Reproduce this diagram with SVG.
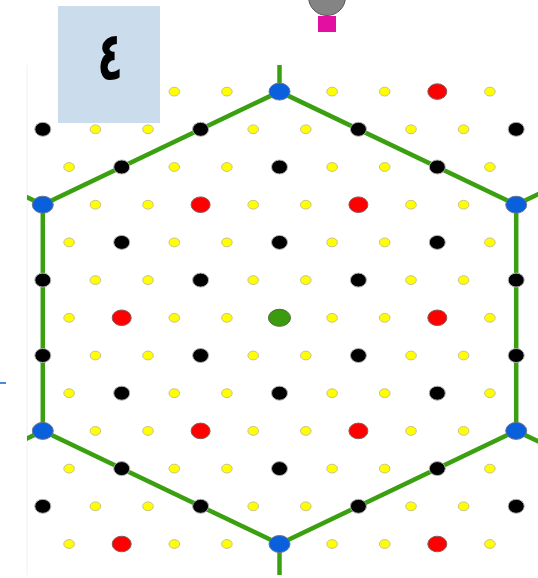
<svg xmlns="http://www.w3.org/2000/svg" xmlns:xlink="http://www.w3.org/1999/xlink" width="538" height="578" viewBox="0 0 538 578">
<style>
.y{fill:#ffff00;stroke:#c8c28c;stroke-width:1}
.k{fill:#000000;stroke:#b4b4b4;stroke-width:1}
.r{fill:#ff0000;stroke:#8c5a5a;stroke-width:1}
.b{fill:#0a5fdc;stroke:#667890;stroke-width:1}
.g{fill:#3a9c0c;stroke:#506040;stroke-width:1}
.edge{stroke:#3aa010;stroke-width:4.5;fill:none;stroke-linecap:butt}
</style>
<defs>
<clipPath id="area"><rect x="27" y="65" width="511" height="510"/></clipPath>
<ellipse id="Y" class="y" cx="0" cy="0" rx="5.3" ry="4.4"/>
<ellipse id="K" class="k" cx="0" cy="0" rx="8" ry="7"/>
<ellipse id="R" class="r" cx="0" cy="0" rx="9.5" ry="7.8"/>
<ellipse id="B" class="b" cx="0" cy="0" rx="10.5" ry="8.5"/>
<ellipse id="G" class="g" cx="0" cy="0" rx="11" ry="8.5"/>
</defs>
<rect width="538" height="578" fill="#ffffff"/>
<line x1="27" y1="65" x2="27" y2="575" stroke="#f0f0f0" stroke-width="1"/>
<line x1="0" y1="383" x2="6" y2="383" stroke="#4a8ad8" stroke-width="2"/>
<g clip-path="url(#area)">
<g id="connectors">
<polygon class="edge" points="279.5,91.6 516.2,204.7 516.2,430.9 279.5,544 42.8,430.9 42.8,204.7"/>
<line class="edge" x1="279.5" y1="91.6" x2="279.5" y2="55"/>
<line class="edge" x1="279.5" y1="544" x2="279.5" y2="590"/>
<line class="edge" x1="42.8" y1="204.7" x2="-4.5" y2="182.1"/>
<line class="edge" x1="516.2" y1="204.7" x2="563.5" y2="182.1"/>
<line class="edge" x1="516.2" y1="430.9" x2="563.5" y2="453.5"/>
<line class="edge" x1="42.8" y1="430.9" x2="-4.5" y2="453.5"/>
</g>
<g id="row-m6">
<use href="#Y" x="69.1" y="91.6"/><use href="#R" x="121.7" y="91.6"/><use href="#Y" x="174.3" y="91.6"/><use href="#Y" x="226.9" y="91.6"/><use href="#B" x="279.5" y="91.6"/><use href="#Y" x="332.1" y="91.6"/><use href="#Y" x="384.7" y="91.6"/><use href="#R" x="437.3" y="91.6"/><use href="#Y" x="489.9" y="91.6"/>
</g>
<g id="row-m5">
<use href="#K" x="42.8" y="129.3"/><use href="#Y" x="95.4" y="129.3"/><use href="#Y" x="148" y="129.3"/><use href="#K" x="200.6" y="129.3"/><use href="#Y" x="253.2" y="129.3"/><use href="#Y" x="305.8" y="129.3"/><use href="#K" x="358.4" y="129.3"/><use href="#Y" x="411" y="129.3"/><use href="#Y" x="463.6" y="129.3"/><use href="#K" x="516.2" y="129.3"/>
</g>
<g id="row-m4">
<use href="#Y" x="69.1" y="167"/><use href="#K" x="121.7" y="167"/><use href="#Y" x="174.3" y="167"/><use href="#Y" x="226.9" y="167"/><use href="#K" x="279.5" y="167"/><use href="#Y" x="332.1" y="167"/><use href="#Y" x="384.7" y="167"/><use href="#K" x="437.3" y="167"/><use href="#Y" x="489.9" y="167"/>
</g>
<g id="row-m3">
<use href="#B" x="42.8" y="204.7"/><use href="#Y" x="95.4" y="204.7"/><use href="#Y" x="148" y="204.7"/><use href="#R" x="200.6" y="204.7"/><use href="#Y" x="253.2" y="204.7"/><use href="#Y" x="305.8" y="204.7"/><use href="#R" x="358.4" y="204.7"/><use href="#Y" x="411" y="204.7"/><use href="#Y" x="463.6" y="204.7"/><use href="#B" x="516.2" y="204.7"/>
</g>
<g id="row-m2">
<use href="#Y" x="69.1" y="242.4"/><use href="#K" x="121.7" y="242.4"/><use href="#Y" x="174.3" y="242.4"/><use href="#Y" x="226.9" y="242.4"/><use href="#K" x="279.5" y="242.4"/><use href="#Y" x="332.1" y="242.4"/><use href="#Y" x="384.7" y="242.4"/><use href="#K" x="437.3" y="242.4"/><use href="#Y" x="489.9" y="242.4"/>
</g>
<g id="row-m1">
<use href="#K" x="42.8" y="280.1"/><use href="#Y" x="95.4" y="280.1"/><use href="#Y" x="148" y="280.1"/><use href="#K" x="200.6" y="280.1"/><use href="#Y" x="253.2" y="280.1"/><use href="#Y" x="305.8" y="280.1"/><use href="#K" x="358.4" y="280.1"/><use href="#Y" x="411" y="280.1"/><use href="#Y" x="463.6" y="280.1"/><use href="#K" x="516.2" y="280.1"/>
</g>
<g id="row-0">
<use href="#Y" x="69.1" y="317.8"/><use href="#R" x="121.7" y="317.8"/><use href="#Y" x="174.3" y="317.8"/><use href="#Y" x="226.9" y="317.8"/><use href="#G" x="279.5" y="317.8"/><use href="#Y" x="332.1" y="317.8"/><use href="#Y" x="384.7" y="317.8"/><use href="#R" x="437.3" y="317.8"/><use href="#Y" x="489.9" y="317.8"/>
</g>
<g id="row-p1">
<use href="#K" x="42.8" y="355.5"/><use href="#Y" x="95.4" y="355.5"/><use href="#Y" x="148" y="355.5"/><use href="#K" x="200.6" y="355.5"/><use href="#Y" x="253.2" y="355.5"/><use href="#Y" x="305.8" y="355.5"/><use href="#K" x="358.4" y="355.5"/><use href="#Y" x="411" y="355.5"/><use href="#Y" x="463.6" y="355.5"/><use href="#K" x="516.2" y="355.5"/>
</g>
<g id="row-p2">
<use href="#Y" x="69.1" y="393.2"/><use href="#K" x="121.7" y="393.2"/><use href="#Y" x="174.3" y="393.2"/><use href="#Y" x="226.9" y="393.2"/><use href="#K" x="279.5" y="393.2"/><use href="#Y" x="332.1" y="393.2"/><use href="#Y" x="384.7" y="393.2"/><use href="#K" x="437.3" y="393.2"/><use href="#Y" x="489.9" y="393.2"/>
</g>
<g id="row-p3">
<use href="#B" x="42.8" y="430.9"/><use href="#Y" x="95.4" y="430.9"/><use href="#Y" x="148" y="430.9"/><use href="#R" x="200.6" y="430.9"/><use href="#Y" x="253.2" y="430.9"/><use href="#Y" x="305.8" y="430.9"/><use href="#R" x="358.4" y="430.9"/><use href="#Y" x="411" y="430.9"/><use href="#Y" x="463.6" y="430.9"/><use href="#B" x="516.2" y="430.9"/>
</g>
<g id="row-p4">
<use href="#Y" x="69.1" y="468.6"/><use href="#K" x="121.7" y="468.6"/><use href="#Y" x="174.3" y="468.6"/><use href="#Y" x="226.9" y="468.6"/><use href="#K" x="279.5" y="468.6"/><use href="#Y" x="332.1" y="468.6"/><use href="#Y" x="384.7" y="468.6"/><use href="#K" x="437.3" y="468.6"/><use href="#Y" x="489.9" y="468.6"/>
</g>
<g id="row-p5">
<use href="#K" x="42.8" y="506.3"/><use href="#Y" x="95.4" y="506.3"/><use href="#Y" x="148" y="506.3"/><use href="#K" x="200.6" y="506.3"/><use href="#Y" x="253.2" y="506.3"/><use href="#Y" x="305.8" y="506.3"/><use href="#K" x="358.4" y="506.3"/><use href="#Y" x="411" y="506.3"/><use href="#Y" x="463.6" y="506.3"/><use href="#K" x="516.2" y="506.3"/>
</g>
<g id="row-p6">
<use href="#Y" x="69.1" y="544"/><use href="#R" x="121.7" y="544"/><use href="#Y" x="174.3" y="544"/><use href="#Y" x="226.9" y="544"/><use href="#B" x="279.5" y="544"/><use href="#Y" x="332.1" y="544"/><use href="#Y" x="384.7" y="544"/><use href="#R" x="437.3" y="544"/><use href="#Y" x="489.9" y="544"/>
</g>
<g id="row-p7">
<use href="#K" x="42.8" y="582.5"/><use href="#K" x="200.6" y="582.5"/><use href="#K" x="358.4" y="582.5"/><use href="#K" x="516.2" y="582.5"/>
</g>
</g>
<g id="label-box">
<rect x="58" y="6" width="102" height="117" fill="#cbdcec"/>
<text transform="translate(110,80) scale(0.68,1.08)" x="0" y="0" font-family="DejaVu Sans, sans-serif" font-size="62" font-weight="bold" text-anchor="middle" fill="#000000">٤</text>
</g>
<g id="top-pin">
<circle cx="327" cy="-3" r="18.5" fill="#848484" stroke="#555555" stroke-width="1"/>
<rect x="318" y="16" width="18" height="16" fill="#e20fa0"/>
</g>
</svg>
